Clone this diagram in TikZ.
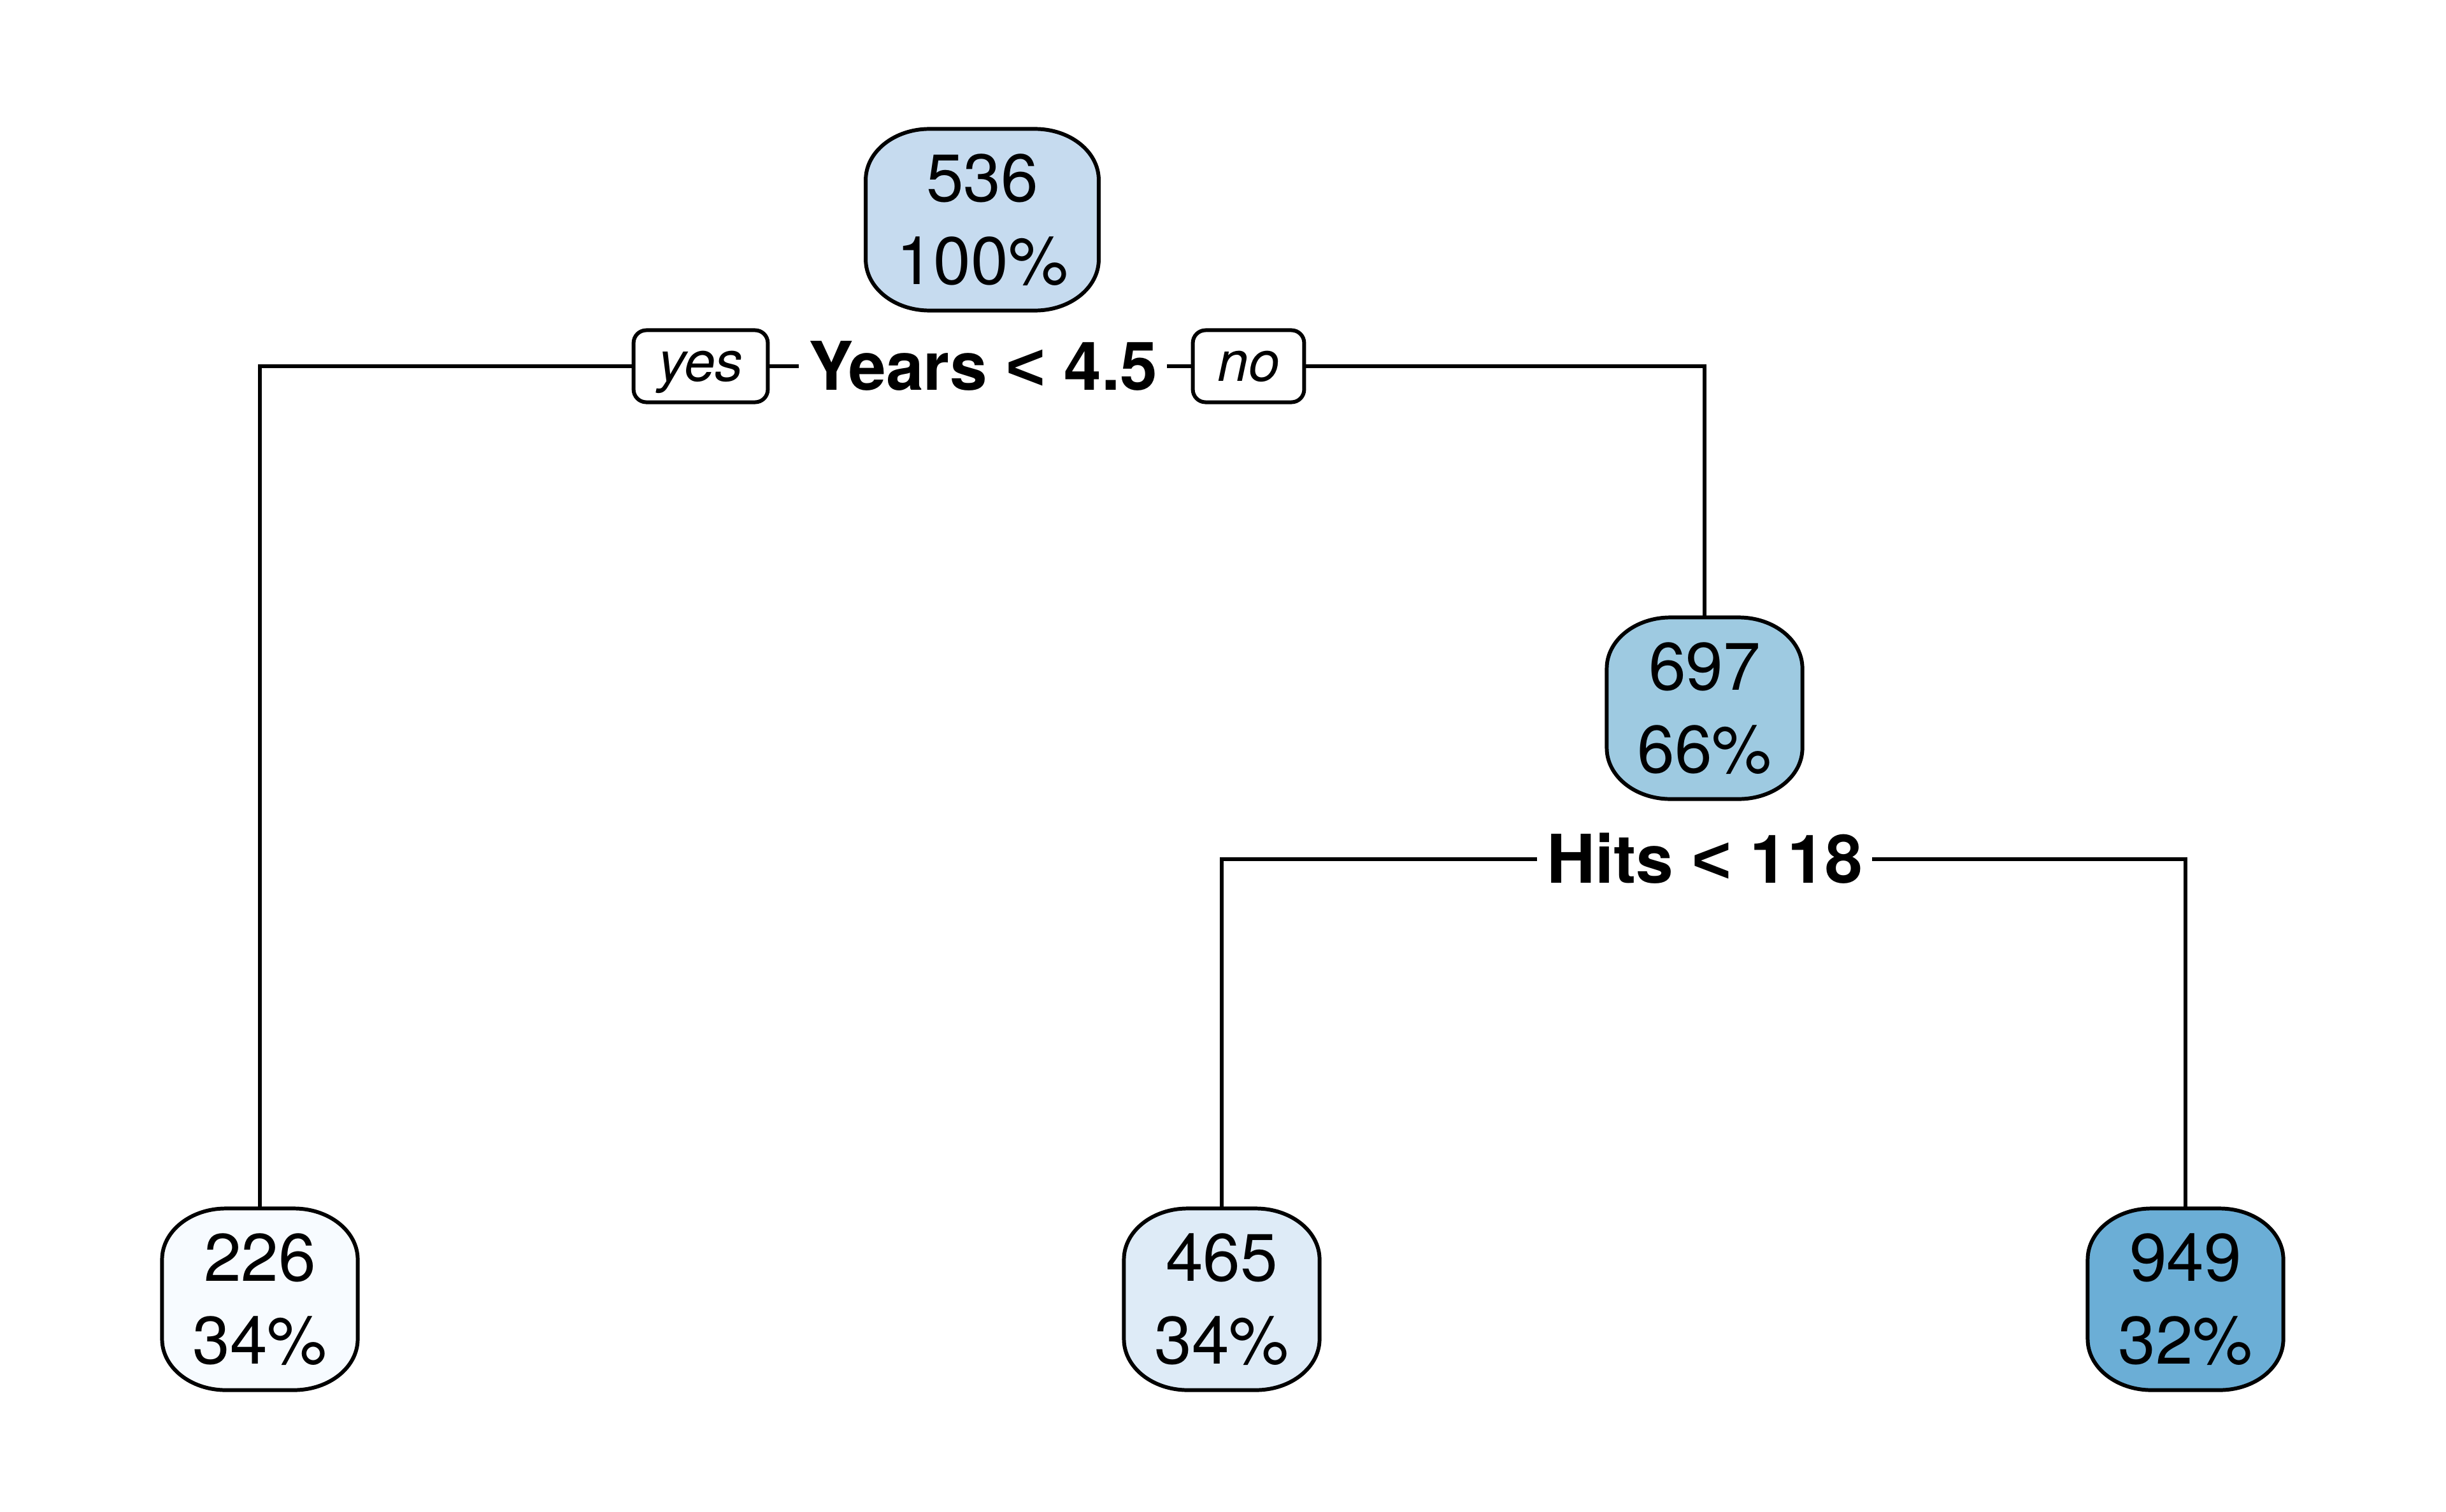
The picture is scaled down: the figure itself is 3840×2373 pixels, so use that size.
\documentclass[tikz,border=0pt]{standalone}
\usepackage{fontspec}
\setmainfont{TeX Gyre Heros}
\newfontfamily\lessfont{Liberation Sans}
\newcommand{\lesssign}{{\lessfont <}}
\usetikzlibrary{backgrounds}

\definecolor{fillroot}{HTML}{C6DBEF}
\definecolor{fillmid}{HTML}{9ECAE1}
\definecolor{fillA}{HTML}{F7FBFF}
\definecolor{fillB}{HTML}{DEEBF7}
\definecolor{fillC}{HTML}{6BAED6}

\tikzset{
	treenode/.style={align=center, font=\fontsize{30}{37}\selectfont, inner xsep=0.48cm, inner ysep=0pt, minimum height=2.85cm, outer sep=0pt},
	splitlabel/.style={font=\fontsize{30}{36}\selectfont\bfseries, text height=21.6pt, text depth=0pt, inner xsep=0.15cm, inner ysep=0pt, outer sep=0pt},
	answerbox/.style={draw, line width=1.7pt, fill=white, rounded corners=0.2cm, font=\fontsize{25}{30}\selectfont\itshape, text height=13.2pt, text depth=0pt, inner xsep=0.385cm, inner ysep=0pt, minimum height=1.13cm, outer sep=0pt},
	branch/.style={line width=1.7pt},
	boxline/.style={line width=1.7pt}
}

% box with elliptical corners round a node
\newcommand{\nodebox}[2]{%
	\draw[boxline, fill=#2] ([xshift=1cm]#1.north west) -- ([xshift=-1cm]#1.north east)
		arc[start angle=90, end angle=0, x radius=1cm, y radius=0.8cm]
		-- ([yshift=0.8cm]#1.south east)
		arc[start angle=0, end angle=-90, x radius=1cm, y radius=0.8cm]
		-- ([xshift=1cm]#1.south west)
		arc[start angle=270, end angle=180, x radius=1cm, y radius=0.8cm]
		-- ([yshift=-0.8cm]#1.north west)
		arc[start angle=180, end angle=90, x radius=1cm, y radius=0.8cm] -- cycle;}

\begin{document}
\begin{tikzpicture}[x=0.01cm, y=-0.01cm]
	\useasboundingbox (0,0) rectangle (3840,2373);
	\node[treenode] (root) at (1542, 345) {536\\100\%};
	\node[splitlabel] (years) at (1543, 575) {Years \lesssign{} 4.5};
	\node[answerbox] (yes) at (1100, 575) {yes};
	\node[answerbox] (no) at (1960, 575) {no};
	\node[treenode] (n697) at (2676, 1112) {697\\66\%};
	\node[splitlabel] (hits) at (2676, 1349) {Hits \lesssign{} 118};
	\node[treenode] (n226) at (408, 2040) {226\\34\%};
	\node[treenode] (n465) at (1918, 2040) {465\\34\%};
	\node[treenode] (n949) at (3431, 2040) {949\\32\%};
	\begin{pgfonlayer}{background}
		\foreach \n/\c in {root/fillroot, n697/fillmid, n226/fillA, n465/fillB, n949/fillC}
			\nodebox{\n}{\c};
	\end{pgfonlayer}
	\draw[branch] (n226.north) |- (yes.west);
	\draw[branch] (yes.east) -- (years.west);
	\draw[branch] (years.east) -- (no.west);
	\draw[branch] (no.east) -| (n697.north);
	\draw[branch] (hits.west) -| (n465.north);
	\draw[branch] (hits.east) -| (n949.north);
\end{tikzpicture}
\end{document}
